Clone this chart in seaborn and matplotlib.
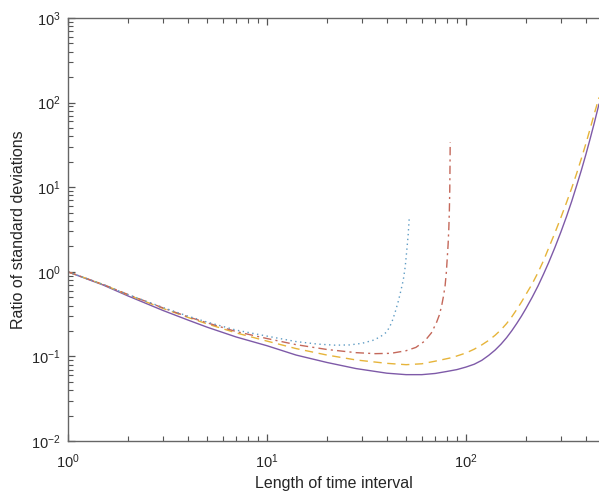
import numpy as np
import pandas as pd
import seaborn as sns
import matplotlib.pyplot as plt
from matplotlib.ticker import LogLocator

# values (log-log axes)
solid_x = [1, 1.5, 2, 3, 4, 5, 7, 10, 14, 20, 28, 40, 50, 60, 70, 80, 90,
           100, 110, 120, 130, 140, 150, 160, 170, 180, 190, 200, 215, 230,
           245, 260, 280, 300, 320, 340, 360, 380, 400, 420, 440, 466]
solid_y = [1.0, 0.70, 0.52, 0.35, 0.27, 0.222, 0.170, 0.134, 0.104, 0.085,
           0.072, 0.0635, 0.061, 0.061, 0.063, 0.0665, 0.070, 0.075, 0.081,
           0.090, 0.103, 0.119, 0.140, 0.167, 0.202, 0.246, 0.30, 0.368,
           0.50, 0.68, 0.935, 1.28, 1.95, 2.97, 4.5, 6.85, 10.5, 15.9, 24.2,
           36.9, 56, 96]

dashed_x = [1, 1.5, 2, 3, 4, 5, 7, 10, 14, 20, 28, 40, 50, 60, 70, 85, 100,
            110, 120, 130, 140, 150, 160, 170, 180, 190, 200, 215, 230, 245,
            260, 280, 300, 320, 340, 360, 380, 400, 420, 440, 466]
dashed_y = [1.0, 0.71, 0.535, 0.37, 0.29, 0.243, 0.19, 0.152, 0.124, 0.104,
            0.091, 0.083, 0.080, 0.082, 0.088, 0.097, 0.110, 0.122, 0.137,
            0.155, 0.178, 0.207, 0.245, 0.295, 0.36, 0.44, 0.54, 0.72, 0.98,
            1.35, 1.9, 2.9, 4.4, 6.6, 9.8, 14.6, 21.8, 32.5, 48.5, 72, 115]

dashdot_x = [1, 1.5, 2, 3, 4, 5, 7, 10, 14, 20, 28, 35, 42, 50, 56, 62, 67,
             71, 73.5, 75.5, 77, 78.5, 79.7, 80.5, 81.3, 82, 82.5, 82.9, 83.1,
             83.3]
dashdot_y = [1.0, 0.71, 0.54, 0.375, 0.295, 0.25, 0.197, 0.163, 0.138, 0.121,
             0.111, 0.108, 0.109, 0.117, 0.128, 0.152, 0.19, 0.25, 0.31, 0.40,
             0.51, 0.68, 1.0, 1.45, 2.1, 3.3, 5.3, 9.5, 17, 34]

dotted_x = [1, 1.5, 2, 3, 4, 5, 7, 10, 14, 18, 22, 26, 30, 34, 37, 40, 42.3,
            44, 45.7, 47, 48.4, 49.5, 50.3, 51.2, 51.9]
dotted_y = [1.0, 0.71, 0.54, 0.38, 0.30, 0.255, 0.205, 0.174, 0.150, 0.140,
            0.136, 0.137, 0.143, 0.155, 0.170, 0.195, 0.25, 0.33, 0.45, 0.59,
            0.80, 1.15, 1.7, 2.7, 4.45]

sns.set_theme(style="ticks")
plt.rcParams["font.family"] = ["Liberation Sans", "DejaVu Sans"]
plt.rcParams["mathtext.default"] = "regular"

fig = plt.figure(figsize=(5.99, 4.99), dpi=100)
ax = fig.add_axes([0.1135, 0.116, 0.8865, 0.848])

series = [
    (solid_x, solid_y, "#7e5aa8", "-"),
    (dashed_x, dashed_y, "#e6b43a", (0, (6, 4))),
    (dashdot_x, dashdot_y, "#c4685a", (0, (6, 3, 1.5, 3))),
    (dotted_x, dotted_y, "#5f9cc4", (0, (1, 2.5))),
]
for xs, ys, col, ls in series:
    sns.lineplot(x=xs, y=ys, ax=ax, color=col, linestyle=ls, linewidth=1.0,
                 sort=False, estimator=None)

ax.set_xscale("log")
ax.set_yscale("log")
ax.set_xlim(1, 466)
ax.set_ylim(1e-2, 1e3)
ax.xaxis.set_major_locator(LogLocator(base=10, numticks=10))
ax.yaxis.set_major_locator(LogLocator(base=10, numticks=10))
ax.xaxis.set_minor_locator(LogLocator(base=10, subs=np.arange(2, 10), numticks=20))
ax.yaxis.set_minor_locator(LogLocator(base=10, subs=np.arange(2, 10), numticks=20))

axis_col = "#666666"
for side in ["left", "bottom", "top"]:
    ax.spines[side].set_color(axis_col)
    ax.spines[side].set_linewidth(1.0)
ax.spines["right"].set_visible(False)
ax.tick_params(which="both", direction="in", top=True, right=False,
               color="#555555", labelcolor="#262626", labelsize=10.5)
ax.tick_params(which="major", length=5, width=0.9)
ax.tick_params(which="minor", length=3.5, width=0.8)
ax.tick_params(axis="x", pad=8)
ax.tick_params(axis="y", pad=5)

ax.set_xlabel("Length of time interval", fontsize=11.5, color="#262626", labelpad=4)
ax.set_ylabel("Ratio of standard deviations", fontsize=11.5, color="#262626", labelpad=4)

fig.savefig("out.png", dpi=100)
